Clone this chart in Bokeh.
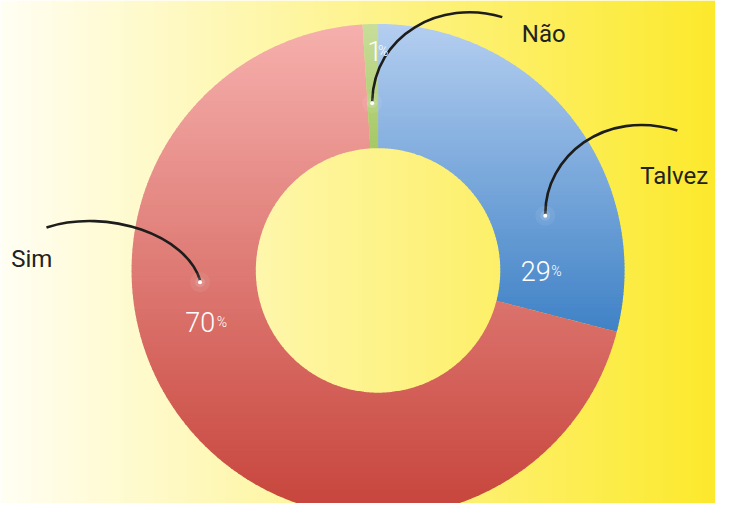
import numpy as np
from bokeh.plotting import figure
from bokeh.models import Range1d
from bokeh.core.properties import value
from bokeh.embed import file_html
from bokeh.resources import INLINE

# ---- data ----
categories = ["Talvez", "Sim", "Não"]
values = [29, 70, 1]

# ---- styles ----
top_colors = ["#B4CEF0", "#F6B0AD", "#C8DE9A"]
bottom_colors = ["#3F82C6", "#C6433A", "#A6C866"]
bg_left, bg_right = "#FFFEF3", "#FCE92C"
LABEL_FONT = "Roboto"
PCT_FONT = "Roboto Light"

# ---- layout (reference pixel space, y down) ----
CX, CY = 386.0, 276.0
R_OUT, R_IN = 252.0, 125.0
label_pos = {"Talvez": (654, 179), "Sim": (11, 264), "Não": (533, 34)}
pct_pos = {"Talvez": (532, 277, 563), "Sim": (189, 329, 221), "Não": (375, 52, 386)}
dot_pos = {"Talvez": (557, 220), "Sim": (204, 288), "Não": (380, 105)}
curve = {  # end point, control 1, control 2
    "Talvez": ((692, 133), (557, 160), (617, 110)),
    "Sim": ((47, 232), (190, 240), (110, 212)),
    "Não": ((513, 17), (382, 35), (450, -2)),
}

p = figure(width=715, height=503, x_range=Range1d(0, 731), y_range=Range1d(514.3, 0),
           output_backend="svg", toolbar_location=None, min_border=0)
p.axis.visible = False
p.grid.visible = False
p.outline_line_color = None
p.border_fill_color = "white"


def hex2rgb(h):
    return np.array([int(h[i:i + 2], 16) for i in (1, 3, 5)], float)


def rgb2hex(c):
    c = np.clip(np.round(c), 0, 255).astype(int)
    return "#%02x%02x%02x" % tuple(c)


# background gradient
ncol = 512
t = np.linspace(0, 1, ncol)
c0, c1 = hex2rgb(bg_left), hex2rgb(bg_right)
rgb = c0[None, :] * (1 - t[:, None]) + c1[None, :] * t[:, None]
img = np.zeros((2, ncol), dtype=np.uint32)
view = img.view(dtype=np.uint8).reshape((2, ncol, 4))
for ch in range(3):
    view[:, :, ch] = np.round(rgb[:, ch]).astype(np.uint8)[None, :]
view[:, :, 3] = 255
p.image_rgba(image=[img], x=0, y=0, dw=731, dh=519)


def clip(poly, yc, keep_ge):
    out = []
    n = len(poly)
    if n == 0:
        return out
    def inside(pt):
        return pt[1] >= yc if keep_ge else pt[1] <= yc
    for i in range(n):
        cur = poly[i]
        prev = poly[i - 1]
        cin, pin = inside(cur), inside(prev)
        if cin:
            if not pin:
                tt = (yc - prev[1]) / (cur[1] - prev[1])
                out.append((prev[0] + tt * (cur[0] - prev[0]), yc))
            out.append(cur)
        elif pin:
            tt = (yc - prev[1]) / (cur[1] - prev[1])
            out.append((prev[0] + tt * (cur[0] - prev[0]), yc))
    return out


total = float(sum(values))
start = 90.0
xs_all, ys_all, cols = [], [], []
for cat, v, ct, cb in zip(categories, values, top_colors, bottom_colors):
    sweep = 360.0 * v / total
    a = np.radians(np.linspace(start, start - sweep, max(8, int(sweep * 3))))
    ox, oy = CX + R_OUT * np.cos(a), CY - R_OUT * np.sin(a)
    ix, iy = CX + R_IN * np.cos(a[::-1]), CY - R_IN * np.sin(a[::-1])
    px, py = np.r_[ox, ix], np.r_[oy, iy]
    poly = list(zip(px, py))
    ymin, ymax = py.min(), py.max()
    nb = 90
    edges = np.linspace(ymin, ymax, nb + 1)
    cta, cba = hex2rgb(ct), hex2rgb(cb)
    for k in range(nb):
        ya = edges[k]
        yb = min(edges[k + 1] + 0.9, ymax)
        piece = clip(clip(poly, ya, True), yb, False)
        if len(piece) >= 3:
            tt = (k + 0.5) / nb
            xs_all.append([q[0] for q in piece])
            ys_all.append([q[1] for q in piece])
            cols.append(rgb2hex(cta * (1 - tt) + cba * tt))
    start -= sweep

p.patches(xs=xs_all, ys=ys_all, fill_color=cols, line_color=None)

# leader lines
for cat in categories:
    (x1, y1), (cx0, cy0), (cx1, cy1) = curve[cat]
    x0, y0 = dot_pos[cat]
    p.bezier(x0=x0, y0=y0 - 2, x1=x1, y1=y1, cx0=cx0, cy0=cy0, cx1=cx1, cy1=cy1,
             line_color="#1d1d1b", line_width=2.6)

dx = [dot_pos[c][0] for c in categories]
dy = [dot_pos[c][1] for c in categories]
p.scatter(dx, dy, size=20, color="white", alpha=0.07, line_color=None)
p.scatter(dx, dy, size=10, color="white", alpha=0.12, line_color=None)
p.scatter(dx, dy, size=4, color="white", line_color=None)

# category labels
p.text(x=[label_pos[c][0] for c in categories], y=[label_pos[c][1] for c in categories],
       text=categories, text_font=value(LABEL_FONT), text_font_size="24px",
       text_color="#222222", text_baseline="alphabetic", text_align="left")

# percentage labels
p.text(x=[pct_pos[c][0] for c in categories], y=[pct_pos[c][1] for c in categories],
       text=[str(v) for v in values], text_font=value(PCT_FONT), text_font_size="27px",
       text_color="white", text_baseline="alphabetic", text_align="left")
p.text(x=[pct_pos[c][2] for c in categories], y=[pct_pos[c][1] for c in categories],
       text=["%"] * len(categories), text_font=value(PCT_FONT), text_font_size="14px",
       text_color="white", text_baseline="alphabetic", text_align="left")

open("out.html", "w").write(file_html(p, INLINE))
